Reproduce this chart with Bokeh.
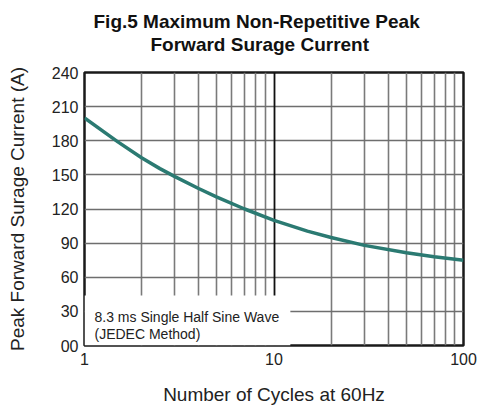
from bokeh.plotting import figure
from bokeh.models import FixedTicker, Grid, BoxAnnotation, Range1d, Title
from bokeh.core.properties import value
from bokeh.embed import file_html
from bokeh.resources import INLINE

# ---- data ----
cycles = [1, 1.5, 2, 2.5, 3, 4, 5, 7, 10, 15, 20, 30, 50, 70, 100]
current = [200, 179, 165, 155.5, 148.5, 138, 130.5, 120, 110, 100.5, 95, 88, 81.5, 78, 75]

x_ticks = [1, 10, 100]
x_tick_labels = ["1", "10", "100"]
x_minor = [2, 3, 4, 5, 6, 7, 8, 9, 20, 30, 40, 50, 60, 70, 80, 90]
y_ticks = [0, 30, 60, 90, 120, 150, 180, 210, 240]
y_tick_labels = ["00", "30", "60", "90", "120", "150", "180", "210", "240"]

title_lines = ["Fig.5  Maximum Non-Repetitive Peak", "Forward Surage Current"]
x_title = "Number of Cycles at 60Hz"
y_title = "Peak Forward Surage Current (A)"
note_lines = ["8.3 ms Single Half Sine Wave", "(JEDEC Method)"]

FONT = "Liberation Sans"

p = figure(width=477, height=409, x_axis_type="log",
           x_range=Range1d(1, 100), y_range=Range1d(0, 240),
           output_backend="svg", toolbar_location=None,
           min_border_left=84, min_border_right=14,
           min_border_top=72, min_border_bottom=64)
p.title.visible = False
p.background_fill_color = "white"
p.border_fill_color = "white"
p.outline_line_color = "#1a1a1a"
p.outline_line_width = 2.5

# grids
p.xgrid.ticker = FixedTicker(ticks=x_minor)
p.xgrid.grid_line_color = "#7a7a7a"
p.xgrid.grid_line_width = 1.6
p.ygrid.ticker = FixedTicker(ticks=y_ticks)
p.ygrid.grid_line_color = "#6e6e6e"
p.ygrid.grid_line_width = 1.6
decade_grid = Grid(dimension=0, ticker=FixedTicker(ticks=[10]),
                   grid_line_color="#111111", grid_line_width=1.8)
p.add_layout(decade_grid, "center")

# white box behind the note
box = BoxAnnotation(left=1, right=12.2, bottom=0, top=44,
                    fill_color="white", fill_alpha=1.0, line_color=None,
                    level="underlay")
p.add_layout(box, "center")

# axes
xa = p.xaxis[0]
xa.ticker = FixedTicker(ticks=x_ticks)
xa.major_label_overrides = {t: l for t, l in zip(x_ticks, x_tick_labels)}
ya = p.yaxis[0]
ya.ticker = FixedTicker(ticks=y_ticks)
ya.major_label_overrides = {t: l for t, l in zip(y_ticks, y_tick_labels)}
for ax in (xa, ya):
    ax.axis_line_color = None
    ax.major_tick_line_color = None
    ax.minor_tick_line_color = None
    ax.major_tick_out = 0
    ax.major_tick_in = 0
    ax.minor_tick_out = 0
    ax.minor_tick_in = 0
    ax.major_label_text_font = FONT
    ax.major_label_text_font_size = "16px"
    ax.major_label_text_color = "#222222"
    ax.axis_label_text_font = FONT
    ax.axis_label_text_font_size = "19px"
    ax.axis_label_text_font_style = "normal"
    ax.axis_label_text_color = "#222222"
xa.major_label_standoff = 7
ya.major_label_standoff = 6
xa.axis_label = x_title
xa.axis_label_standoff = 16
ya.axis_label = y_title
ya.axis_label_standoff = 21

# curve
p.line(cycles, current, line_color="#2b7a72", line_width=3.5)

# spacer between frame top and the titles (first added sits nearest the frame)
p.add_layout(Title(text="\u00a0", text_font_size="2px", standoff=12,
                   text_color="white"), "above")
p.add_layout(Title(text=title_lines[1], align="left", offset=66,
                   vertical_align="top", standoff=0,
                   text_font=FONT, text_font_size="19px",
                   text_font_style="bold", text_color="#111111"), "above")
p.add_layout(Title(text=title_lines[0], align="left", offset=9,
                   vertical_align="top", standoff=0,
                   text_font=FONT, text_font_size="19px",
                   text_font_style="bold", text_color="#111111"), "above")

# note inside the plot
p.text(x=[1], y=[0], text=[note_lines[0]], x_offset=10, y_offset=-29,
       text_align="left", text_baseline="alphabetic", text_font_size="14px",
       text_color="#222222", text_font=value(FONT))
p.text(x=[1], y=[0], text=[note_lines[1]], x_offset=10, y_offset=-11.5,
       text_align="left", text_baseline="alphabetic", text_font_size="14px",
       text_color="#222222", text_font=value(FONT))

open("out.html", "w").write(file_html(p, INLINE))
